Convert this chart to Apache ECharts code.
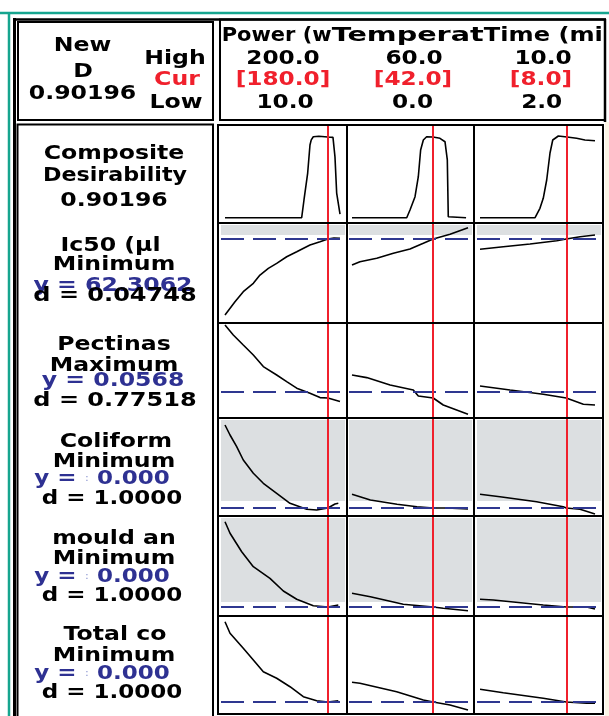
<!DOCTYPE html>
<html><head><meta charset="utf-8">
<script src="https://cdn.jsdelivr.net/npm/echarts@6/dist/echarts.min.js"></script>
<style>html,body{margin:0;padding:0;background:#fff}#c{width:609px;height:716px}</style>
</head><body><div id="c"></div>
<script>
// ---------------- DATA ----------------
const factorNames = ['Power (w', 'Temperat', 'Time (mi'];
const factorHigh = [200.0, 60.0, 10.0];
const factorCur = [180.0, 42.0, 8.0];
const factorLow = [10.0, 0.0, 2.0];

const responseNames = ['Composite', 'Ic50 (µl', 'Pectinas', 'Coliform', 'mould an', 'Total co'];
const responseGoals = ['Desirability', 'Minimum', 'Maximum', 'Minimum', 'Minimum', 'Minimum'];
const responseY = [0.90196, 62.3062, 0.0568, 0.000, 0.000, 0.000];
const responseYText = ['', '62.3062', '0.0568', '0.000', '0.000', '0.000'];
const responseDText = ['0.90196', '0.04748', '0.77518', '1.0000', '1.0000', '1.0000'];
const compositeD = '0.90196';

// gray shaded response bands (response units), null = none
const grayBands = [null, [64.3, 69.3], null, [0.7, 8.8], [0.5, 8.9], null];

// curves: [factor value, response value]
const compositePower = [[10,0],[136.7,0],[140.5,0.198],[146.6,0.499],[150.4,0.812],[152.5,0.87],[155.9,0.905],[165,0.91],[180,0.902],[188.4,0.898],[191.7,0.68],[194.5,0.276],[200,0.041]];
const compositeTemp = [[0,0],[28.3,0],[30,0.086],[32.6,0.235],[34.3,0.458],[35.5,0.756],[36.9,0.868],[38.6,0.905],[41.9,0.902],[45.5,0.887],[48.1,0.849],[49.3,0.645],[49.8,0.011],[50.5,0],[59,0]];
const compositeTime = [[2,0],[5.83,0],[6.17,0.105],[6.4,0.217],[6.64,0.421],[6.87,0.723],[7.06,0.868],[7.45,0.913],[8.05,0.902],[8.72,0.887],[9.3,0.868],[10,0.86]];

const ic50Power = [[10,24.3],[26.5,30.95],[40.2,35.95],[56.8,40.15],[67.8,44.3],[81.6,47.65],[95.4,50.15],[111.9,53.45],[128.5,55.95],[150.4,59.3],[167,60.95],[180,62.3],[190,62.75],[200,62.6]];
const ic50Temp = [[0,49.3],[4.1,50.95],[12.8,52.65],[21.4,55.15],[30,57.3],[36.9,60.15],[42,62.3],[50.7,64.65],[60,67.95]];
const ic50Time = [[2,57.15],[3.62,58.45],[5.48,59.8],[7.34,61.45],[8,62.3],[8.96,63.45],[10,64.3]];

const pectinasPower = [[10,0.0933],[23.7,0.0883],[40.2,0.0833],[56.8,0.0783],[73.3,0.0725],[95.4,0.0683],[111.9,0.065],[128.5,0.0617],[150.4,0.0592],[167,0.057],[180,0.0568],[200,0.055]];
const pectinasTemp = [[0,0.0683],[7.6,0.067],[19.7,0.0633],[31.7,0.0608],[34.3,0.0578],[42,0.0568],[47.2,0.0533],[60,0.0487]];
const pectinasTime = [[2,0.0628],[4.09,0.0608],[6.4,0.0587],[8,0.0568],[9.19,0.0537],[10,0.0533]];

const coliformPower = [[10,8.3],[18.3,7.3],[29.3,6.13],[40.2,4.8],[56.8,3.47],[73.3,2.47],[95.4,1.47],[117.4,0.47],[145,-0.13],[161.5,-0.2],[180,0.0],[191.7,0.4],[197.2,0.47]];
const coliformTemp = [[0,1.37],[9.5,0.8],[23.3,0.37],[33.6,0.13],[42,0.0],[49.1,0.0],[60,-0.1]];
const coliformTime = [[2,1.37],[3.39,1.13],[5.94,0.63],[7.79,0.13],[8,0.0],[8.96,-0.13],[10,-0.6]];

const mouldPower = [[10,8.53],[18.3,7.37],[37.6,5.53],[56.8,4.03],[84.3,2.87],[106.4,1.6],[128.5,0.77],[155.9,0.13],[180,0.0],[197.2,0.2]];
const mouldTemp = [[0,1.37],[9.5,1.03],[26.5,0.27],[42,0.0],[47.2,-0.13],[60,-0.37]];
const mouldTime = [[2,0.77],[2.93,0.7],[6.4,0.2],[8,0.0],[9.42,0.0],[10,-0.2]];

const totalPower = [[10,8.03],[18.3,6.87],[40.2,5.37],[56.8,4.2],[73.3,3.03],[95.4,2.37],[117.4,1.53],[139.4,0.53],[161.5,0.13],[180,0.0],[197.2,0.13]];
const totalTemp = [[0,1.97],[4.1,1.87],[23.1,1.03],[36.9,0.2],[42,0.0],[50.7,-0.3],[60,-0.8]];
const totalTime = [[2,1.27],[3.62,0.93],[6.4,0.37],[8,0.0],[9.42,-0.13],[10,-0.13]];

const curves = [
  [compositePower, compositeTemp, compositeTime],
  [ic50Power, ic50Temp, ic50Time],
  [pectinasPower, pectinasTemp, pectinasTime],
  [coliformPower, coliformTemp, coliformTime],
  [mouldPower, mouldTemp, mouldTime],
  [totalPower, totalTemp, totalTime]
];

// ---------------- LAYOUT ----------------
const rowCells = [[125,223],[223,323],[323,418],[418,516],[516,616],[616,714]];
const rowRange = [[-0.0592,1.0358],[20.3062,70.3062],[0.0468,0.0943],[-0.8,9.0],[-0.9,9.1],[-1.2,8.6]];
const colGrid = [[221,345],[349,472],[477,601]];
const colDataPx = [[225,340],[352,468],[480,595]];

const grids = [], xAxes = [], yAxes = [], series = [];
for (let r = 0; r < 6; r++) {
  for (let c = 0; c < 3; c++) {
    const gi = r*3 + c;
    grids.push({left: colGrid[c][0], width: colGrid[c][1]-colGrid[c][0], top: rowCells[r][0], height: rowCells[r][1]-rowCells[r][0]});
    const lo = factorLow[c], hi = factorHigh[c];
    const perPx = (hi - lo) / (colDataPx[c][1] - colDataPx[c][0]);
    xAxes.push({type:'value', gridIndex: gi, show:false, min: lo - (colDataPx[c][0]-colGrid[c][0])*perPx, max: hi + (colGrid[c][1]-colDataPx[c][1])*perPx});
    yAxes.push({type:'value', gridIndex: gi, show:false, min: rowRange[r][0], max: rowRange[r][1]});
    if (grayBands[r]) {
      series.push({type:'line', xAxisIndex: gi, yAxisIndex: gi, data: [], silent:true, z:1,
        markArea: {silent:true, itemStyle:{color:'#dcdfe1'}, data: [[{yAxis: grayBands[r][0]}, {yAxis: grayBands[r][1]}]]}});
    }
    if (r > 0) {
      series.push({type:'line', xAxisIndex: gi, yAxisIndex: gi, data: [], silent:true, z:2,
        markLine: {silent:true, symbol:['none','none'], label:{show:false}, animation:false,
          lineStyle:{color:'#2e3790', width:2, type:[23,9]}, data:[{yAxis: responseY[r]}]}});
    }
    series.push({type:'line', xAxisIndex: gi, yAxisIndex: gi, data: curves[r][c], showSymbol:false, symbol:'none',
      lineStyle:{color:'#000', width:1.6}, z:3, animation:false, clip:true});
    series.push({type:'line', xAxisIndex: gi, yAxisIndex: gi, data: [], silent:true, z:4,
      markLine: {silent:true, symbol:['none','none'], label:{show:false}, animation:false,
        lineStyle:{color:'#f0202c', width:2, type:'solid'}, data:[{xAxis: factorCur[c]}]}});
  }
}

// ---------------- DECORATION / TEXT ----------------
const FONT = 'bold 20px "DejaVu Sans"';
const SX = 1.18;
const mctx = document.createElement('canvas').getContext('2d');
function fit(str, w) { mctx.font = FONT; return w / mctx.measureText(str).width; }
const BLACK = '#000', RED = '#f0202c', BLUE = '#2e3192';
const g = [];
function T(str, x, y, color, sx, rich) {
  const st = {text: str, x:0, y:0, fill: color, font: FONT, align:'center', textAlign:'center', verticalAlign:'middle', textVerticalAlign:'middle'};
  if (rich) st.rich = rich;
  g.push({type:'text', x: x, y: y + 1.4, scaleX: sx || SX, z: 120, silent:true, style: st});
}
function L(x1,y1,x2,y2,color,w) {
  g.push({type:'line', z:110, silent:true, shape:{x1,y1,x2,y2}, style:{stroke:color, lineWidth:w}});
}
function R(x,y,w,h,color,lw) {
  g.push({type:'rect', z:110, silent:true, shape:{x,y,width:w,height:h}, style:{fill:null, stroke:color, lineWidth:lw}});
}
// cream strip at right
g.push({type:'rect', z:5, silent:true, shape:{x:605,y:122,width:4,height:594}, style:{fill:'#fcf5e6'}});
// teal frame
L(0,13,609,13,'#16a58f',2.5); L(9,13,9,716,'#16a58f',2.5);
// outer black
L(14.5,18,14.5,716,BLACK,3); L(13,19.5,606,19.5,BLACK,2.5);
// boxes
R(18,22,195,98,BLACK,2);
R(220,19.5,385,100.5,BLACK,2);
L(605,19,605,122,BLACK,2.5);
R(17.5,124.5,195.5,595,BLACK,2);
// response grid frame
R(218,125,385,589,BLACK,2);
[347,474].forEach(x => L(x,125,x,714,BLACK,2));
[223,323,418,516,616].forEach(y => L(218,y,603,y,BLACK,2));

// box 1
T('New', 82.5, 44.5, BLACK);
T('D', 83, 70, BLACK);
T(compositeD, 82.5, 92.5, BLACK);
T('High', 175, 57.5, BLACK);
T('Cur', 177, 78.3, RED);
T('Low', 176, 101.7, BLACK);
// box 2
const nameCx = [276.7, 407.7, 543.3], nameW = [110, 152, 119];
const hiCx = [283, 414, 543], curCx = [283, 413, 541], loCx = [285, 412.5, 541.7];
for (let c = 0; c < 3; c++) {
  T(factorNames[c], nameCx[c], 34.2, BLACK, fit(factorNames[c], nameW[c]));
  T(factorHigh[c].toFixed(1), hiCx[c], 57.5, BLACK, 1.16);
  T('[' + factorCur[c].toFixed(1) + ']', curCx[c], 78, RED, 1.16);
  T(factorLow[c].toFixed(1), loCx[c], 101, BLACK, 1.16);
}
// left response labels
const colonRich = {c: {fontSize: 11, fill: '#9aa2d6', fontFamily: 'DejaVu Sans'}};
T('Composite', 114, 152, BLACK);
T(responseGoals[0], 115, 174, BLACK, 1.11);
T(responseDText[0], 114, 199, BLACK);
const lblY = [[244,263,284,294],[343,364,379,399],[440,460,477,497],[537,557,575,594],[633,654,672,691]];
const nameX = [110.5, 114, 116, 114, 115];
for (let r = 1; r < 6; r++) {
  const ys = lblY[r-1];
  T(responseNames[r], nameX[r-1], ys[0], BLACK);
  T(responseGoals[r], 114, ys[1], BLACK);
  if (r >= 3) T('y = {c|:} ' + responseYText[r], 102, ys[2], BLUE, 1.15, colonRich);
  else T('y = ' + responseYText[r], 113, ys[2], BLUE);
  T('d = ' + responseDText[r], r >= 3 ? 112 : 115, ys[3], BLACK, r >= 3 ? 1.15 : 1.2);
}

const chart = echarts.init(document.getElementById('c'), null, {renderer:'canvas'});
chart.setOption({
  animation: false,
  backgroundColor: '#ffffff',
  grid: grids, xAxis: xAxes, yAxis: yAxes, series: series,
  graphic: {elements: g}
});
</script></body></html>
